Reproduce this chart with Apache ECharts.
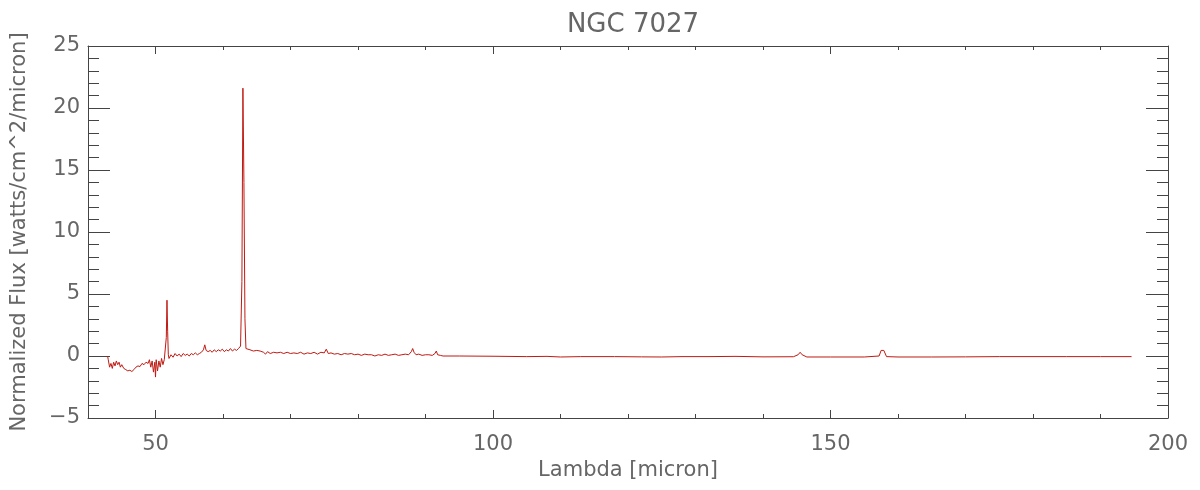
<!DOCTYPE html>
<html>
<head>
<meta charset="utf-8">
<script src="https://cdn.jsdelivr.net/npm/echarts@6/dist/echarts.min.js"></script>
<style>
  html, body { margin: 0; padding: 0; background: #fff; }
  #chart { width: 1200px; height: 490px; }
</style>
</head>
<body>
<div id="chart"></div>
<script>
// spectrum: wavelength [micron] and normalized flux
const lambda = [
  42.9, 43.0, 43.2, 43.4, 43.6, 43.8, 44.0, 44.2, 44.4, 44.6, 44.8, 45.0, 45.3, 45.6, 45.9,
  46.2, 46.5, 46.8, 47.1, 47.4, 47.7, 48.0, 48.3, 48.6, 48.9, 49.1, 49.3, 49.5, 49.7, 49.9,
  50.0, 50.1, 50.3, 50.5, 50.7, 50.9, 51.1, 51.3, 51.5, 51.6, 51.7, 51.8, 51.9, 52.0, 52.3,
  52.6, 52.9, 53.2, 53.5, 53.8, 54.1, 54.4, 54.7, 55.0, 55.3, 55.6, 55.9, 56.2, 56.5, 56.8,
  57.1, 57.3, 57.5, 57.8, 58.1, 58.4, 58.7, 59.0, 59.3, 59.6, 59.9, 60.2, 60.5, 60.8, 61.1,
  61.4, 61.7, 62.0, 62.3, 62.6, 62.8, 62.95, 63.1, 63.25, 63.4, 63.6, 64.0, 64.5, 65.0, 65.5,
  66.0, 66.3, 66.6, 67.0, 67.5, 68.0, 68.5, 69.0, 69.5, 70.0, 70.5, 71.0, 71.5, 72.0, 72.5,
  73.0, 73.5, 74.0, 74.5, 75.0, 75.3, 75.6, 76.0, 76.5, 77.0, 77.5, 78.0, 78.5, 79.0, 79.5,
  80.0, 80.5, 81.0, 81.5, 82.0, 82.5, 83.0, 83.5, 84.0, 84.5, 85.0, 85.5, 86.0, 86.5, 87.0,
  87.5, 87.9, 88.1, 88.3, 88.6, 89.0, 89.5, 90.0, 90.5, 91.0, 91.4, 91.6, 91.8, 92.2, 92.6,
  95, 100, 105, 108, 110, 113, 118, 122, 125, 128, 132, 136, 140, 144.5, 145.2,
  145.5, 145.8, 146.5, 150, 155, 157.2, 157.5, 157.7, 157.9, 158.3, 160, 165, 170, 175, 180,
  185, 190, 194.6
];
const flux = [
  0.0, -0.3, -0.9, -0.6, -1.0, -0.5, -0.8, -0.4, -0.7, -0.5, -0.9, -0.7, -1.0, -1.1, -1.2,
  -1.15, -1.25, -1.1, -0.9, -0.8, -0.85, -0.6, -0.7, -0.5, -0.6, -0.3, -0.9, -0.4, -1.3, -0.5,
  -1.7, -0.3, -1.2, -0.4, -0.9, -0.2, -0.7, -0.3, -0.4, 1.5, 4.5, 2.0, 0.1, -0.2, 0.1,
  -0.1, 0.2, 0.0, 0.15, -0.05, 0.2, 0.05, 0.15, 0.0, 0.2, 0.1, 0.25, 0.1, 0.2, 0.3,
  0.5, 0.9, 0.45, 0.35, 0.45, 0.3, 0.5, 0.35, 0.5, 0.4, 0.55, 0.35, 0.5, 0.4, 0.6,
  0.4, 0.55, 0.45, 0.6, 0.8, 6.0, 21.6, 14.0, 3.0, 0.6, 0.45, 0.5, 0.4, 0.45, 0.4,
  0.3, 0.15, 0.35, 0.2, 0.3, 0.25, 0.3, 0.2, 0.3, 0.2, 0.25, 0.2, 0.3, 0.15, 0.25,
  0.2, 0.3, 0.15, 0.3, 0.25, 0.55, 0.2, 0.25, 0.15, 0.2, 0.1, 0.2, 0.15, 0.2, 0.1,
  0.15, 0.05, 0.15, 0.1, 0.1, 0.0, 0.1, 0.05, 0.15, 0.05, 0.1, 0.15, 0.05, 0.1, 0.15,
  0.1, 0.35, 0.6, 0.3, 0.1, 0.15, 0.05, 0.1, 0.1, 0.05, 0.2, 0.4, 0.1, 0.05, 0.0,
  0.0, -0.02, -0.05, -0.03, -0.08, -0.05, -0.05, -0.07, -0.08, -0.05, -0.05, -0.03, -0.07, -0.06, 0.1,
  0.3, 0.1, -0.08, -0.08, -0.08, 0.0, 0.45, 0.6, 0.45, -0.05, -0.08, -0.08, -0.07, -0.05, -0.05,
  -0.05, -0.05, -0.05
];
const xLabels = [50, 100, 150, 200];
const xMinor = [50, 60, 70, 80, 90, 100, 110, 120, 130, 140, 150, 160, 170, 180, 190];

const chart = echarts.init(document.getElementById('chart'));

const font = 'DejaVu Sans';
const axisColor = '#444';
const textColor = '#666';

// bottom/top x axes: index 0,1 carry labels + long ticks, 2,3 the short ticks
const xBase = { type: 'value', min: 40, max: 200, splitLine: { show: false } };
const xAxes = [
  Object.assign({}, xBase, {
    position: 'bottom',
    name: 'Lambda [micron]', nameLocation: 'middle', nameGap: 40,
    nameTextStyle: { fontFamily: font, fontSize: 21, color: textColor },
    axisLine: { onZero: false, lineStyle: { color: axisColor } },
    axisTick: { inside: true, length: 8, customValues: xLabels, lineStyle: { color: axisColor } },
    axisLabel: { customValues: xLabels, margin: 16, fontFamily: font, fontSize: 21, color: textColor }
  }),
  Object.assign({}, xBase, {
    position: 'top',
    axisLine: { onZero: false, lineStyle: { color: axisColor } },
    axisTick: { inside: true, length: 8, customValues: xLabels, lineStyle: { color: axisColor } },
    axisLabel: { show: false }
  }),
  Object.assign({}, xBase, {
    position: 'bottom',
    axisLine: { show: false, onZero: false },
    axisTick: { inside: true, length: 4, customValues: xMinor, lineStyle: { color: axisColor } },
    axisLabel: { show: false }
  }),
  Object.assign({}, xBase, {
    position: 'top',
    axisLine: { show: false, onZero: false },
    axisTick: { inside: true, length: 4, customValues: xMinor, lineStyle: { color: axisColor } },
    axisLabel: { show: false }
  })
];

const yBase = {
  type: 'value', min: -5, max: 25, interval: 5,
  splitLine: { show: false },
  axisLine: { show: true, onZero: false, lineStyle: { color: axisColor } },
  axisTick: { show: true, inside: true, length: 22, lineStyle: { color: axisColor } },
  minorTick: { show: true, splitNumber: 5, length: 11, lineStyle: { color: axisColor } }
};

chart.setOption({
  animation: false,
  backgroundColor: '#fff',
  title: {
    text: 'NGC 7027', left: 628, top: 7, textAlign: 'center',
    textStyle: { fontFamily: font, fontSize: 26, fontWeight: 'normal', color: textColor }
  },
  grid: { left: 88, right: 32, top: 46, bottom: 72 },
  xAxis: xAxes,
  yAxis: [
    Object.assign({}, yBase, {
      position: 'left',
      name: 'Normalized Flux [watts/cm^2/micron]', nameLocation: 'middle', nameGap: 58,
      nameTextStyle: { fontFamily: font, fontSize: 21, color: textColor },
      axisLabel: {
        margin: 8, fontFamily: font, fontSize: 21, color: textColor,
        formatter: (v) => String(v).replace('-', '\u2212')
      }
    }),
    Object.assign({}, yBase, { position: 'right', axisLabel: { show: false } })
  ],
  series: [{
    type: 'line',
    data: lambda.map((x, i) => [x, flux[i]]),
    showSymbol: false,
    sampling: 'none',
    lineStyle: { color: '#bf1a12', width: 1 }
  }]
});
</script>
</body>
</html>
